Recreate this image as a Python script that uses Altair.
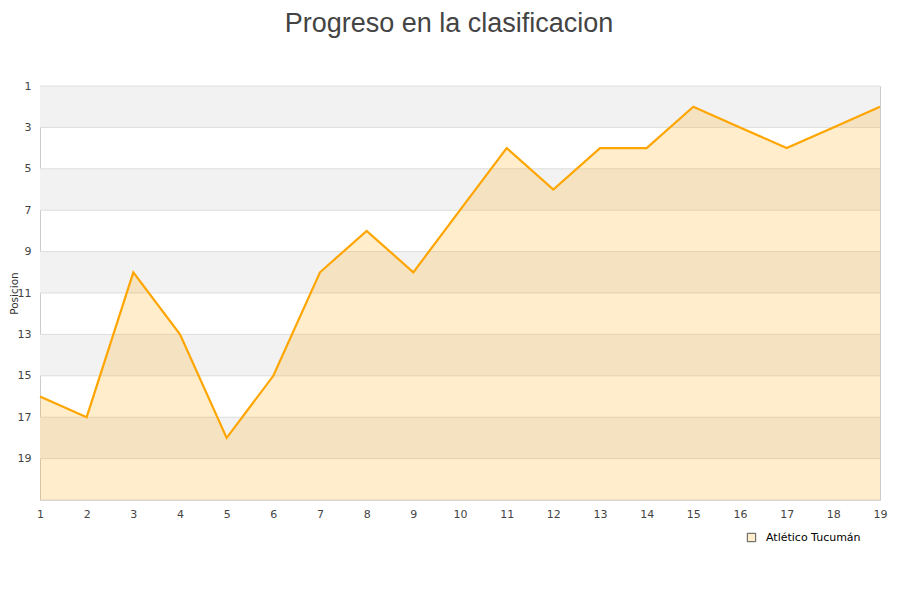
import altair as alt
import pandas as pd

jornadas = list(range(1, 20))
posiciones = [16, 17, 10, 13, 18, 15, 10, 8, 10, 7, 4, 6, 4, 4, 2, 3, 4, 3, 2]
equipo = "Atlético Tucumán"
band_start = [1, 5, 9, 13, 17]
band_end = [3, 7, 11, 15, 19]
grid_vals = list(range(1, 22, 2))
tick_vals = list(range(1, 20, 2))
fondo = 21

df = pd.DataFrame({"jornada": jornadas, "pos": posiciones, "equipo": [equipo] * len(jornadas)})
df["base"] = fondo
bands = pd.DataFrame({"y1": band_start, "y2": band_end})
grid = pd.DataFrame({"g": grid_vals})
leg = pd.DataFrame({"jornada": [-50], "pos": [1], "equipo": [equipo]})

xscale = alt.Scale(domain=[1, 19], nice=False, zero=False)
yscale = alt.Scale(domain=[1, 21], reverse=True, nice=False, zero=False)

band_layer = alt.Chart(bands).mark_rect(color="#f2f2f2").encode(
    y=alt.Y("y1:Q", scale=yscale),
    y2="y2:Q",
    x=alt.value(0),
    x2=alt.value(840),
)

grid_layer = alt.Chart(grid).mark_rule(color="#dddddd", strokeWidth=1).encode(
    y=alt.Y("g:Q", scale=yscale),
)

area = alt.Chart(df).mark_area(color="#ffa500", fillOpacity=0.2, interpolate="linear").encode(
    x=alt.X("jornada:Q", scale=xscale,
            axis=alt.Axis(values=jornadas, title=None, grid=False, ticks=False, domain=False,
                          labelFont="DejaVu Sans", labelFontSize=11, labelColor="#444444",
                          labelPadding=8, labelFlush=False)),
    y=alt.Y("pos:Q", scale=yscale,
            axis=alt.Axis(values=tick_vals, title="Posicion", grid=False, ticks=False, domain=False,
                          labelFont="DejaVu Sans", labelFontSize=11, labelColor="#444444",
                          labelPadding=9, titleFont="DejaVu Sans", titleFontSize=10.5,
                          titleFontWeight="normal", titleColor="#333333",
                          titleX=-31, titleBaseline="top", titleAlign="center")),
    y2="base:Q",
)

legend_layer = alt.Chart(leg).mark_square(filled=True, stroke="#555555", strokeWidth=1,
                                          clip=True, opacity=1).encode(
    x=alt.X("jornada:Q", scale=xscale),
    y=alt.Y("pos:Q", scale=yscale),
    color=alt.Color("equipo:N", scale=alt.Scale(range=["#ffedcc"]),
                    legend=alt.Legend(title=None, orient="none", legendX=706, legendY=446,
                                      symbolType="square", symbolSize=70,
                                      symbolStrokeColor="#555555", symbolStrokeWidth=1,
                                      labelFont="DejaVu Sans", labelFontSize=11,
                                      labelColor="#000000", labelOffset=9)),
)

line = alt.Chart(df).mark_line(color="#ffa500", strokeWidth=2.2).encode(
    x=alt.X("jornada:Q", scale=xscale),
    y=alt.Y("pos:Q", scale=yscale),
)

chart = alt.layer(band_layer, grid_layer, area, line, legend_layer).properties(
    width=840,
    height=414,
    autosize=alt.AutoSizeParams(type="none"),
    padding={"left": 32, "top": 78, "right": 12, "bottom": 90},
    title=alt.Title("Progreso en la clasificacion", font="Liberation Sans", fontSize=27,
                    fontWeight="normal", color="#444444", anchor="middle", offset=42, dx=-11),
).configure_view(stroke="#cccccc", strokeWidth=1)

chart.save("out.html", embed_options={"renderer": "svg", "actions": False})
